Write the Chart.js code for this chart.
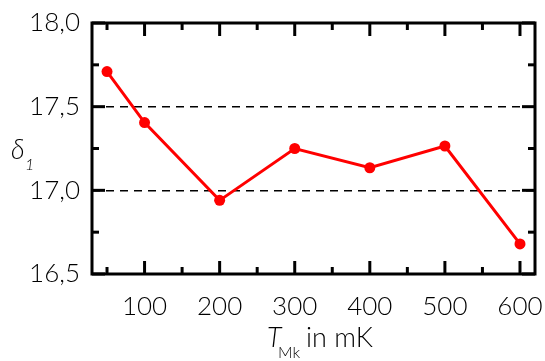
<!DOCTYPE html>
<html lang="de">
  <head>
    <meta charset="UTF-8" />
    <title>delta1 vs T</title>
    <script src="https://cdn.jsdelivr.net/npm/chart.js"></script>
    <style>
      html, body { margin: 0; padding: 0; background: #fff; }
      #wrap { width: 545px; height: 361px; }
    </style>
  </head>
  <body>
    <div id="wrap"><canvas id="myChart" width="545" height="361"></canvas></div>
    <script>
      // data
      const temps = [50, 100, 200, 300, 400, 500, 600];
      const delta1 = [17.71, 17.405, 16.94, 17.25, 17.135, 17.265, 16.68];
      const xTicks = [100, 200, 300, 400, 500, 600];
      const xMinor = [50, 150, 250, 350, 450, 550];
      const yTicks = [16.5, 17.0, 17.5, 18.0];
      const yMinor = [16.75, 17.25, 17.75];

      const FONT = "Lato, 'DejaVu Sans', sans-serif";

      // frame, inward ticks on all sides, axis titles
      const framePlugin = {
        id: "frame",
        afterDraw(chart) {
          const { ctx, chartArea: a, scales } = chart;
          const xs = scales.x, ys = scales.y;
          ctx.save();
          ctx.strokeStyle = "#000";
          ctx.lineWidth = 3;
          ctx.lineCap = "butt";
          const tick = (x1, y1, x2, y2) => {
            ctx.beginPath(); ctx.moveTo(x1, y1); ctx.lineTo(x2, y2); ctx.stroke();
          };
          xTicks.forEach(v => {
            const px = xs.getPixelForValue(v);
            tick(px, a.bottom, px, a.bottom - 13);
            tick(px, a.top, px, a.top + 13);
          });
          xMinor.forEach(v => {
            const px = xs.getPixelForValue(v);
            tick(px, a.bottom, px, a.bottom - 7);
            tick(px, a.top, px, a.top + 7);
          });
          yTicks.forEach(v => {
            const py = ys.getPixelForValue(v);
            tick(a.left, py, a.left + 13, py);
            tick(a.right, py, a.right - 13, py);
          });
          yMinor.forEach(v => {
            const py = ys.getPixelForValue(v);
            tick(a.left, py, a.left + 7, py);
            tick(a.right, py, a.right - 7, py);
          });
          ctx.strokeRect(a.left, a.top, a.right - a.left, a.bottom - a.top);

          // axis titles
          ctx.fillStyle = "#000";
          ctx.textBaseline = "alphabetic";
          ctx.textAlign = "left";
          ctx.font = "italic 300 27px " + FONT;
          ctx.fillText("δ", 11, 159);
          ctx.font = "italic 300 16px " + FONT;
          ctx.fillText("1", 25, 170);

          ctx.font = "italic 300 27px " + FONT;
          ctx.fillText("T", 267, 347);
          ctx.font = "300 16px " + FONT;
          ctx.fillText("Mk", 278, 358);
          ctx.font = "300 27px " + FONT;
          ctx.fillText("in mK", 306, 347);
          ctx.restore();
        }
      };

      const ctx = document.getElementById("myChart");
      const myChart = new Chart(ctx, {
        type: "line",
        data: {
          labels: temps,
          datasets: [
            {
              label: "delta1",
              data: temps.map((t, i) => ({ x: t, y: delta1[i] })),
              borderColor: "#ff0000",
              backgroundColor: "#ff0000",
              borderWidth: 3,
              pointRadius: 5.5,
              pointBorderWidth: 0,
              tension: 0,
            },
          ],
        },
        options: {
          responsive: false,
          animation: false,
          layout: { padding: { top: 23, right: 10, left: 0, bottom: 0 } },
          plugins: { legend: { display: false }, tooltip: { enabled: false } },
          scales: {
            x: {
              type: "linear",
              min: 30,
              max: 620,
              afterBuildTicks: (s) => { s.ticks = xTicks.map(v => ({ value: v })); },
              afterFit: (s) => { s.height = 87; s.paddingLeft = 0; s.paddingRight = 0; },
              grid: { display: false, drawTicks: false },
              border: { display: false },
              ticks: {
                color: "#000",
                padding: 17,
                maxRotation: 0,
                font: { family: FONT, size: 26, weight: 300 },
                callback: (v) => String(v),
              },
            },
            y: {
              min: 16.5,
              max: 18.0,
              afterBuildTicks: (s) => { s.ticks = yTicks.map(v => ({ value: v })); },
              afterFit: (s) => { s.width = 92; s.paddingTop = 0; s.paddingBottom = 0; },
              border: { display: false, dash: [8, 6] },
              grid: {
                drawTicks: false,
                color: (c) => (c.tick && (c.tick.value === 17 || c.tick.value === 17.5)) ? "#000" : "rgba(0,0,0,0)",
                lineWidth: 1.5,
              },
              ticks: {
                color: "#000",
                padding: 12,
                font: { family: FONT, size: 26, weight: 300 },
                callback: (v) => v.toFixed(1).replace(".", ","),
              },
            },
          },
        },
        plugins: [framePlugin],
      });
    </script>
  </body>
</html>
